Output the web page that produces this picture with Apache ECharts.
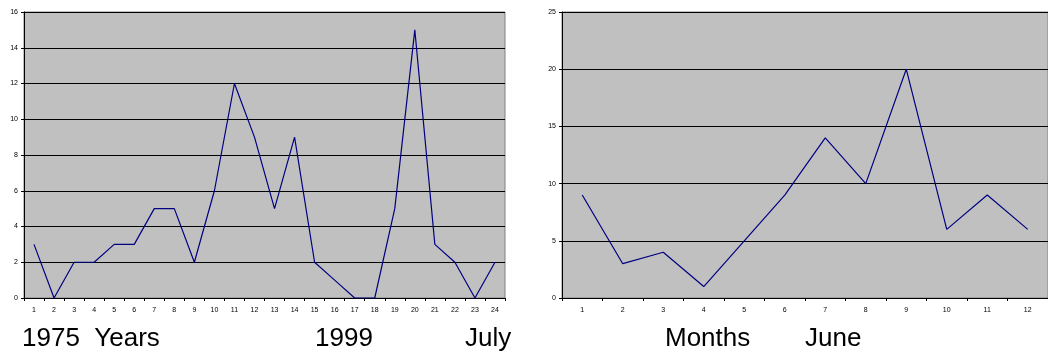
<!DOCTYPE html>
<html>
<head>
<meta charset="utf-8">
<script src="https://cdn.jsdelivr.net/npm/echarts@6/dist/echarts.min.js"></script>
<style>
  html, body { margin: 0; padding: 0; background: #fff; }
  #chart { width: 1048px; height: 353px; }
</style>
</head>
<body>
<div id="chart"></div>
<script>
// Yearly counts, 24 periods
const yearCategories = ['1','2','3','4','5','6','7','8','9','10','11','12','13','14','15','16','17','18','19','20','21','22','23','24'];
const yearValues = [3, 0, 2, 2, 3, 3, 5, 5, 2, 6, 12, 9, 5, 9, 2, 1, 0, 0, 5, 15, 3, 2, 0, 2];

// Monthly counts, 12 months
const monthCategories = ['1','2','3','4','5','6','7','8','9','10','11','12'];
const monthValues = [9, 3, 4, 1, 5, 9, 14, 10, 20, 6, 9, 6];

// Captions under the two panels
const captions = [
  { text: '1975  Years', x: 22 },
  { text: '1999', x: 315 },
  { text: 'July', x: 465 },
  { text: 'Months', x: 665 },
  { text: 'June', x: 805 }
];

const tickFont = { fontFamily: 'Liberation Sans, Arial, sans-serif', fontSize: 7, color: '#000' };

function xAxisFor(gridIndex, data) {
  return {
    type: 'category', gridIndex, data, boundaryGap: true,
    axisLine: { lineStyle: { color: '#000', width: 1 } },
    axisTick: { show: true, length: 3, lineStyle: { color: '#000' }, alignWithLabel: false },
    axisLabel: Object.assign({ margin: 9, interval: 0 }, tickFont),
    splitLine: { show: false }
  };
}
function yAxisFor(gridIndex, max, interval) {
  return {
    type: 'value', gridIndex, min: 0, max, interval,
    axisLine: { show: true, lineStyle: { color: '#000', width: 1 } },
    axisTick: { show: true, length: 3, lineStyle: { color: '#000' } },
    axisLabel: Object.assign({ margin: 6 }, tickFont),
    splitLine: { show: true, lineStyle: { color: '#000', width: 1 } }
  };
}

const chart = echarts.init(document.getElementById('chart'), null, { renderer: 'canvas' });
chart.setOption({
  animation: false,
  backgroundColor: '#fff',
  grid: [
    { left: 24, top: 12, width: 481, height: 286, show: true, backgroundColor: '#C0C0C0', borderColor: '#808080', borderWidth: 1 },
    { left: 562, top: 12, width: 486, height: 286, show: true, backgroundColor: '#C0C0C0', borderColor: '#808080', borderWidth: 1 }
  ],
  xAxis: [xAxisFor(0, yearCategories), xAxisFor(1, monthCategories)],
  yAxis: [yAxisFor(0, 16, 2), yAxisFor(1, 25, 5)],
  series: [
    { type: 'line', xAxisIndex: 0, yAxisIndex: 0, data: yearValues, symbol: 'none',
      lineStyle: { color: '#000080', width: 1.2 } },
    { type: 'line', xAxisIndex: 1, yAxisIndex: 1, data: monthValues, symbol: 'none',
      lineStyle: { color: '#000080', width: 1.2 } }
  ],
  graphic: captions.map(c => ({
    type: 'text', left: c.x, top: 326,
    style: { text: c.text, fontFamily: 'Liberation Sans, Arial, sans-serif', fontSize: 26, fill: '#000' }
  }))
});
</script>
</body>
</html>
